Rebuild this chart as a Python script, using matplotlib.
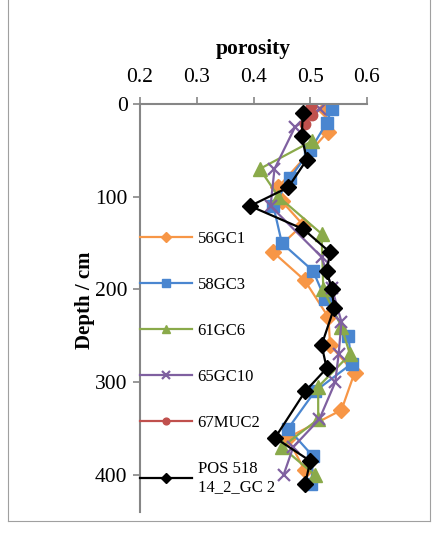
import matplotlib.pyplot as plt
from matplotlib.lines import Line2D

plt.rcParams['font.family'] = 'Liberation Serif'

# depth (cm) and porosity per core
d_56 = [5, 30, 90, 105, 130, 160, 190, 230, 260, 290, 330, 360, 395]
p_56 = [0.526, 0.531, 0.443, 0.450, 0.487, 0.435, 0.490, 0.532, 0.535, 0.578, 0.555, 0.460, 0.490]

d_58 = [5, 20, 50, 80, 110, 150, 180, 210, 250, 280, 310, 350, 380, 410]
p_58 = [0.538, 0.529, 0.500, 0.464, 0.435, 0.450, 0.505, 0.526, 0.567, 0.573, 0.508, 0.461, 0.505, 0.502]

d_61 = [40, 70, 100, 140, 200, 240, 270, 305, 340, 370, 400]
p_61 = [0.503, 0.411, 0.444, 0.520, 0.523, 0.555, 0.570, 0.514, 0.514, 0.450, 0.508]

d_65 = [5, 25, 70, 110, 165, 198, 235, 270, 300, 340, 370, 400]
p_65 = [0.517, 0.473, 0.437, 0.430, 0.520, 0.538, 0.555, 0.550, 0.544, 0.516, 0.470, 0.453]

d_67 = [2, 12, 22]
p_67 = [0.502, 0.503, 0.490]

d_pos = [10, 35, 60, 90, 110, 135, 160, 180, 200, 220, 260, 285, 310, 360, 385, 410]
p_pos = [0.487, 0.485, 0.494, 0.461, 0.394, 0.488, 0.535, 0.529, 0.538, 0.542,
         0.520, 0.529, 0.491, 0.438, 0.500, 0.491]

series = [
    (p_56, d_56, '56GC1', '#F79646', 'D', 8),
    (p_58, d_58, '58GC3', '#4A86D0', 's', 8.5),
    (p_61, d_61, '61GC6', '#8AAA4A', '^', 9.5),
    (p_65, d_65, '65GC10', '#7F60A0', 'x', 8.5),
    (p_67, d_67, '67MUC2', '#C0504D', 'o', 7.5),
    (p_pos, d_pos, 'POS 518\n14_2_GC 2', '#000000', 'D', 8.5),
]

fig = plt.figure(figsize=(4.34, 5.34), dpi=100)
ax = fig.add_axes([140/434, 1-512/534, 227/434, 408/534])

for x, y, lab, c, m, ms in series:
    ax.plot(x, y, color=c, marker=m, markersize=ms, linewidth=1.6,
            markeredgewidth=1.6 if m == 'x' else 1, label=lab)

ax.set_xlim(0.2, 0.6)
ax.set_ylim(440, 0)
ax.set_xticks([0.2, 0.3, 0.4, 0.5, 0.6])
ax.set_yticks([0, 100, 200, 300, 400])
ax.xaxis.tick_top()
ax.xaxis.set_label_position('top')
ax.set_xlabel('porosity', fontsize=15.5, fontweight='bold')
ax.set_ylabel('Depth / cm', fontsize=15, fontweight='bold')
ax.xaxis.set_label_coords(0.5, (512-54)/408)
ax.yaxis.set_label_coords((95-140)/227, (512-300)/408)
for s in ['right', 'bottom']:
    ax.spines[s].set_visible(False)
for s in ['left', 'top']:
    ax.spines[s].set_color('#868686')
    ax.spines[s].set_linewidth(1.5)
ax.tick_params(colors='#868686', labelcolor='black', labelsize=15.5, length=5, width=1.2)
ax.tick_params(axis='x', pad=7)
ax.tick_params(axis='y', pad=4)

ax.legend(loc='upper left', bbox_to_anchor=(140/434, 1-231/534), bbox_transform=fig.transFigure,
          frameon=False, fontsize=12, handlelength=3.1, handletextpad=0.35,
          labelspacing=1.8, borderpad=0, borderaxespad=0, markerscale=0.65)

# outer frame
fc = '#A0A0A0'
fig.add_artist(Line2D([8/434, 8/434], [1, 1-521/534], color=fc, lw=0.8, transform=fig.transFigure))
fig.add_artist(Line2D([8/434, 430/434], [1-521/534, 1-521/534], color=fc, lw=0.8, transform=fig.transFigure))
fig.add_artist(Line2D([430/434, 430/434], [1, 1-521/534], color=fc, lw=0.8, transform=fig.transFigure))

fig.savefig('out.png', dpi=100)
